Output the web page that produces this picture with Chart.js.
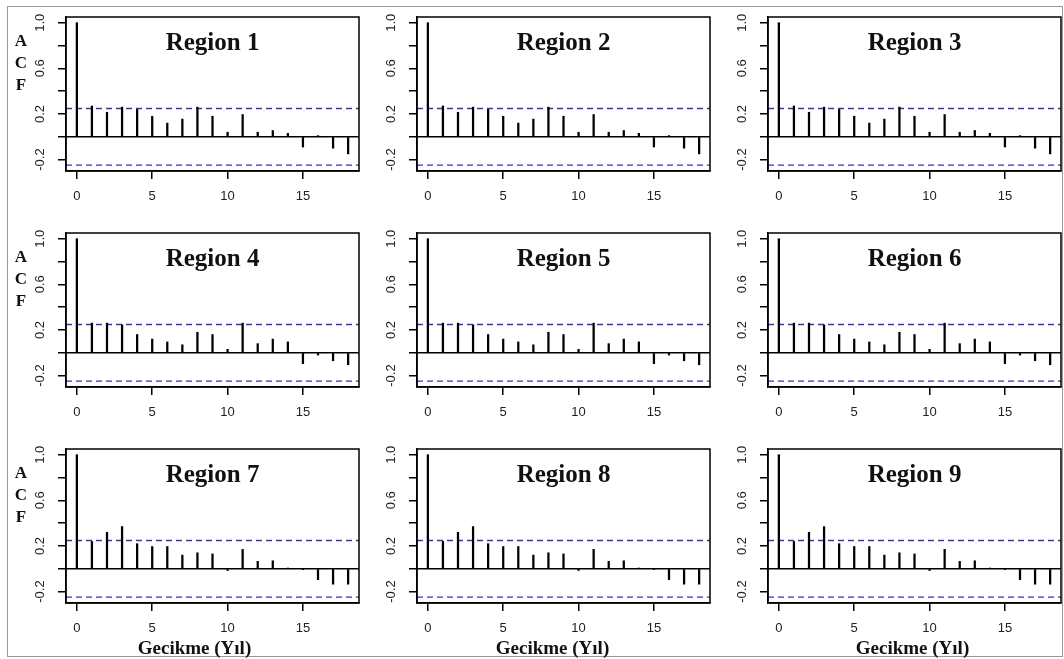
<!DOCTYPE html>
<html>
<head>
<meta charset="utf-8">
<script src="https://cdn.jsdelivr.net/npm/chart.js@4.4.0/dist/chart.umd.min.js"></script>
<style>
  body { margin:0; background:#fff; width:1064px; height:659px; overflow:hidden; position:relative; }
  #frame { position:absolute; left:7px; top:6px; width:1056px; height:651px; border:1px solid #999; box-sizing:border-box; }
  canvas { position:absolute; }
</style>
</head>
<body>
<div id="frame"></div>
<div id="wrap"></div>
<script>
// lags 0..18, acf values
const lags = [0,1,2,3,4,5,6,7,8,9,10,11,12,13,14,15,16,17,18];
const region1 = [1.0,0.27,0.215,0.26,0.24,0.18,0.12,0.155,0.26,0.18,0.04,0.195,0.04,0.055,0.03,-0.09,0.01,-0.10,-0.15];
const region2 = [1.0,0.27,0.215,0.26,0.24,0.18,0.12,0.155,0.26,0.18,0.04,0.195,0.04,0.055,0.03,-0.09,0.01,-0.10,-0.15];
const region3 = [1.0,0.27,0.215,0.26,0.24,0.18,0.12,0.155,0.26,0.18,0.04,0.195,0.04,0.055,0.03,-0.09,0.01,-0.10,-0.15];
const region4 = [1.0,0.26,0.26,0.245,0.16,0.12,0.095,0.07,0.18,0.16,0.03,0.26,0.08,0.12,0.095,-0.095,-0.02,-0.07,-0.105];
const region5 = [1.0,0.26,0.26,0.245,0.16,0.12,0.095,0.07,0.18,0.16,0.03,0.26,0.08,0.12,0.095,-0.095,-0.02,-0.07,-0.105];
const region6 = [1.0,0.26,0.26,0.245,0.16,0.12,0.095,0.07,0.18,0.16,0.03,0.26,0.08,0.12,0.095,-0.095,-0.02,-0.07,-0.105];
const region7 = [1.0,0.24,0.32,0.37,0.22,0.195,0.195,0.12,0.14,0.13,-0.015,0.17,0.065,0.07,0.003,-0.004,-0.095,-0.135,-0.135];
const region8 = [1.0,0.24,0.32,0.37,0.22,0.195,0.195,0.12,0.14,0.13,-0.015,0.17,0.065,0.07,0.003,-0.004,-0.095,-0.135,-0.135];
const region9 = [1.0,0.24,0.32,0.37,0.22,0.195,0.195,0.12,0.14,0.13,-0.015,0.17,0.065,0.07,0.003,-0.004,-0.095,-0.135,-0.135];
const regions = [region1,region2,region3,region4,region5,region6,region7,region8,region9];
const titles = ['Region 1','Region 2','Region 3','Region 4','Region 5','Region 6','Region 7','Region 8','Region 9'];
const ci = 0.248;            // blue dashed bounds
const xTicks = [0,5,10,15];
const yTicks = [-0.2,0,0.2,0.4,0.6,0.8,1.0];
const yLabels = [-0.2,0.2,0.6,1.0];
const xTitle = 'Gecikme (Yıl)';
const acfLetters = ['A','C','F'];

// extra drawing: box, zero line, ci lines, rotated y labels, titles
const acfDecor = {
  id: 'acfDecor',
  beforeDatasetsDraw(chart, args, opt) {
    const ctx = chart.ctx, a = chart.chartArea, y = chart.scales.y;
    ctx.save();
    ctx.strokeStyle = '#000';
    ctx.lineWidth = 1.5;
    ctx.beginPath();
    ctx.moveTo(a.left, y.getPixelForValue(0));
    ctx.lineTo(a.right, y.getPixelForValue(0));
    ctx.stroke();
    ctx.strokeStyle = '#3535b5';
    ctx.lineWidth = 1.3;
    ctx.setLineDash([6,4]);
    [ci, -ci].forEach(v => {
      const py = y.getPixelForValue(v);
      ctx.beginPath();
      ctx.moveTo(a.left, py);
      ctx.lineTo(a.right, py);
      ctx.stroke();
    });
    ctx.restore();
  },
  afterDraw(chart, args, opt) {
    const ctx = chart.ctx, a = chart.chartArea, y = chart.scales.y;
    ctx.save();
    ctx.strokeStyle = '#000';
    ctx.lineWidth = 1.5;
    ctx.strokeRect(a.left, a.top, a.right - a.left, a.bottom - a.top);

    ctx.fillStyle = '#222';
    ctx.font = '13px "Liberation Sans"';
    ctx.textAlign = 'center';
    ctx.textBaseline = 'middle';
    yLabels.forEach(v => {
      ctx.save();
      ctx.translate(a.left - 26, y.getPixelForValue(v));
      ctx.rotate(-Math.PI / 2);
      ctx.fillText(v.toFixed(1), 0, 0);
      ctx.restore();
    });

    ctx.fillStyle = '#111';
    ctx.font = 'bold 25px "Liberation Serif"';
    ctx.fillText(opt.title, (a.left + a.right) / 2, a.top + 27);

    if (opt.acf) {
      ctx.font = 'bold 17px "Liberation Serif"';
      acfLetters.forEach((l, i) => ctx.fillText(l, 21, a.top + 25 + i * 22));
    }
    if (opt.xtitle) {
      ctx.font = 'bold 19px "Liberation Serif"';
      ctx.fillText(xTitle, (a.left + a.right) / 2 + opt.shift, a.bottom + 46);
    }
    ctx.restore();
  }
};

const shifts = [-18, -11, -2];
const wrap = document.getElementById('wrap');

regions.forEach((vals, i) => {
  const r = Math.floor(i / 3), c = i % 3;
  const cv = document.createElement('canvas');
  cv.width = 362; cv.height = 233;
  cv.style.left = (c * 351) + 'px';
  cv.style.top = (r * 216) + 'px';
  wrap.appendChild(cv);

  new Chart(cv, {
    type: 'bar',
    data: {
      datasets: [{
        data: lags.map((l, k) => ({ x: l, y: vals[k] })),
        backgroundColor: '#000',
        borderWidth: 0,
        barThickness: 1.6
      }]
    },
    options: {
      responsive: false,
      animation: false,
      devicePixelRatio: 1,
      layout: { padding: { left: 0, top: 17, right: 3, bottom: 0 } },
      plugins: {
        legend: { display: false },
        tooltip: { enabled: false },
        acfDecor: { title: titles[i], acf: c === 0, xtitle: r === 2, shift: shifts[c] }
      },
      scales: {
        x: {
          type: 'linear',
          min: -0.72, max: 18.72,
          offset: false,
          afterBuildTicks: s => { s.ticks = xTicks.map(v => ({ value: v })); },
          afterFit: s => { s.height = 62; },
          grid: { display: true, drawOnChartArea: false, drawTicks: true, tickLength: 8, color: '#000', lineWidth: 1.5, offset: false },
          border: { display: true, color: '#000', width: 1.5 },
          ticks: { color: '#222', font: { family: 'Liberation Sans', size: 13 }, padding: 10, maxRotation: 0, autoSkip: false }
        },
        y: {
          min: -0.3, max: 1.05,
          afterBuildTicks: s => { s.ticks = yTicks.map(v => ({ value: v })); },
          afterFit: s => { s.width = 66; },
          grid: { display: true, drawOnChartArea: false, drawTicks: true, tickLength: 8, color: '#000', lineWidth: 1.5 },
          border: { display: true, color: '#000', width: 1.5 },
          ticks: { display: false }
        }
      }
    },
    plugins: [acfDecor]
  });
});
</script>
</body>
</html>
